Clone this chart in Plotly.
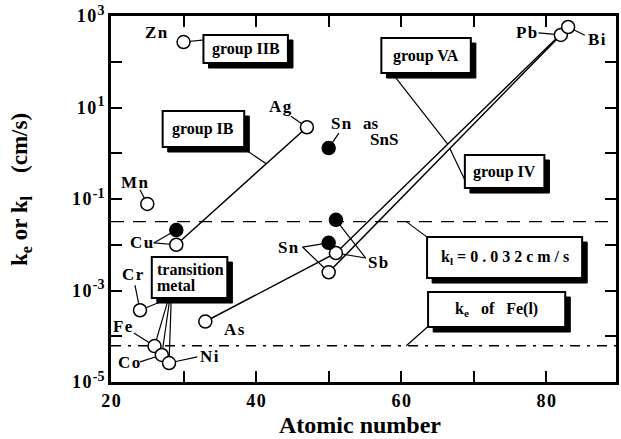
import math
import plotly.graph_objects as go

FONT = "Liberation Serif"

# ---- data -------------------------------------------------------------
# open circles: mass-transfer coefficient k_e of each solute element
open_elem = ["Mn", "Cr", "Fe", "Co", "Ni", "Cu", "Zn", "As", "Ag", "Sn", "Sb", "Pb", "Bi"]
open_z = [25, 24, 26, 27, 28, 29, 30, 33, 47, 50, 51, 82, 83]
open_k = [0.078, 3.7e-4, 6.1e-5, 3.9e-5, 2.6e-5, 0.010, 270, 2.1e-4, 3.7, 2.5e-3, 6.6e-3, 385, 575]

# filled circles
filled_elem = ["Cu", "Sn", "Sb", "SnS"]
filled_z = [29, 50, 51, 50]
filled_k = [0.021, 0.011, 0.035, 1.3]

# reference levels
K_L = 0.032          # k_l = 0.032 cm/s
KE_FE = 6.2e-5       # k_e of Fe(l)

# elements joined by the group trend lines
group_ib = ["Cu", "Ag"]
group_va = ["As", "Sb", "Bi"]
group_iv = ["Sn", "Pb"]

# axis ticks
x_ticks = [20, 30, 40, 50, 60, 70, 80]
x_ticktext = ["20", "", "40", "", "60", "", "80"]
y_exps = list(range(-5, 4))

X_RANGE = [20, 89.6]
Y_RANGE = [-5, 3]

# ---- helpers ----------------------------------------------------------
OPEN = dict(zip(open_elem, zip(open_z, open_k)))
FILLED = dict(zip(filled_elem, zip(filled_z, filled_k)))
HAIR = "\u200a"


def spaced(s):
    """Typewriter-style letter spacing."""
    return HAIR.join(s)


def on_line(a, b, z):
    """Point at atomic number z on the log-linear segment joining a and b."""
    (za, ka), (zb, kb) = a, b
    t = (z - za) / (zb - za)
    return z, 10 ** (math.log10(ka) + t * (math.log10(kb) - math.log10(ka)))


shapes = []
annotations = []


def seg(p0, p1, width=1.2, dash=None):
    shapes.append(dict(type="line", xref="x", yref="y", layer="below",
                       x0=p0[0], y0=p0[1], x1=p1[0], y1=p1[1],
                       line=dict(color="black", width=width, dash=dash)))


def pt(z, logk):
    return z, 10 ** logk


def label(text, z, logk, size=17, **kw):
    annotations.append(dict(text="<b>%s</b>" % text, x=z, y=logk, xref="x", yref="y",
                            showarrow=False, xanchor=kw.pop("xanchor", "center"),
                            yanchor="middle", font=dict(family=FONT, size=size, color="black"),
                            **kw))


# ---- figure -----------------------------------------------------------
fig = go.Figure()

# horizontal reference levels
shapes.append(dict(type="line", xref="paper", yref="y", layer="below", x0=0, x1=1,
                   y0=K_L, y1=K_L, line=dict(color="black", width=1.4, dash="13px,9px")))
shapes.append(dict(type="line", xref="paper", yref="y", layer="below", x0=0, x1=1,
                   y0=KE_FE, y1=KE_FE, line=dict(color="black", width=1.4, dash="10px,7px,3px,7px")))

# group trend lines
for grp in (group_ib, group_va, group_iv):
    fig.add_trace(go.Scatter(x=[OPEN[e][0] for e in grp], y=[OPEN[e][1] for e in grp],
                             mode="lines", line=dict(color="black", width=1.5),
                             hoverinfo="skip", showlegend=False))

fig.add_trace(go.Scatter(x=open_z, y=open_k, mode="markers", text=open_elem,
                         marker=dict(size=13, color="white", line=dict(color="black", width=1.5)),
                         showlegend=False))
fig.add_trace(go.Scatter(x=filled_z, y=filled_k, mode="markers", text=filled_elem,
                         marker=dict(size=13, color="black", line=dict(color="black", width=1.5)),
                         showlegend=False))

# element labels with their leader lines
label(spaced("Zn"), 26.3, 2.65)
label(spaced("Mn"), 23.3, -0.63)
seg(pt(24.0, -0.80), OPEN["Mn"])
label(spaced("Ag"), 43.4, 1.03)
seg(pt(44.8, 0.81), OPEN["Ag"])
label(spaced("Sn"), 51.8, 0.66)
label("as", 55.9, 0.66)
label("SnS", 57.6, 0.29)
seg(pt(51.4, 0.44), FILLED["SnS"])
label(spaced("Cu"), 24.2, -1.96)
seg(pt(25.9, -1.96), FILLED["Cu"])
seg(pt(25.9, -1.96), OPEN["Cu"])
label(spaced("Cr"), 23.0, -2.66)
seg(pt(23.3, -2.88), OPEN["Cr"])
label(spaced("Fe"), 21.6, -3.78)
seg(pt(23.15, -3.93), OPEN["Fe"])
label(spaced("Co"), 22.5, -4.58)
seg(pt(24.0, -4.56), OPEN["Co"])
label(spaced("Ni"), 33.6, -4.45)
seg(pt(31.9, -4.45), OPEN["Ni"])
label(spaced("As"), 37.0, -3.86)
label(spaced("Sn"), 44.5, -2.07)
seg(pt(46.4, -2.05), FILLED["Sn"])
seg(pt(46.4, -2.05), OPEN["Sn"])
label(spaced("Sb"), 56.8, -2.38)
seg(pt(55.1, -2.29), FILLED["Sb"])
seg(pt(55.1, -2.29), OPEN["Sb"])
label(spaced("Pb"), 77.3, 2.63)
seg(pt(78.9, 2.63), OPEN["Pb"])
label(spaced("Bi"), 87.0, 2.48)
seg(pt(85.3, 2.58), OPEN["Bi"])

# callouts from the boxes
seg(OPEN["Zn"], pt(32.9, 2.48))
seg(pt(38.6, 0.07), on_line(OPEN["Cu"], OPEN["Ag"], 41.4))
seg(pt(59.1, 1.68), on_line(OPEN["Sb"], OPEN["Bi"], 66.4))
seg(pt(68.9, -0.63), on_line(OPEN["Sn"], OPEN["Pb"], 66.7))
for z0, e in ((27.7, "Cr"), (27.9, "Fe"), (28.1, "Co"), (28.3, "Ni")):
    seg(pt(z0, -3.19), OPEN[e])
seg(pt(63.7, -1.85), (60.7, K_L))
seg(pt(63.8, -3.77), (60.7, KE_FE))

# shadowed text boxes: (lines of text, z0, z1, logk_bottom, logk_top)
boxes = [
    (["group IIB"], 32.74, 44.38, 1.973, 2.585),
    (["group IB"], 27.12, 38.36, 0.137, 0.923),
    (["group VA"], 57.26, 69.59, 1.754, 2.519),
    (["group IV"], 68.77, 79.73, -0.760, -0.038),
    (["transition", "metal"], 25.62, 36.03, -3.164, -2.268),
    (["k<sub>l</sub> = 0 . 0 3 2 c m / s"], 63.56, 84.93, -2.727, -1.831),
    (["k<sub>e</sub>\u00a0\u00a0 of\u00a0\u00a0 Fe(l)"], 63.70, 82.60, -3.798, -3.033),
]
DZ, DLOG = 0.7, 0.11
for lines, z0, z1, lb, lt in boxes:
    shapes.append(dict(type="rect", xref="x", yref="y", layer="below",
                       x0=z0 + DZ, x1=z1 + DZ, y0=10 ** (lb - DLOG), y1=10 ** (lt - DLOG),
                       fillcolor="black", line=dict(color="black", width=1)))
    shapes.append(dict(type="rect", xref="x", yref="y", layer="below",
                       x0=z0, x1=z1, y0=10 ** lb, y1=10 ** lt,
                       fillcolor="white", line=dict(color="black", width=2)))
    if len(lines) == 2:
        mid = (lb + lt) / 2
        label(lines[0], z0 + 0.4, mid + 0.17, size=16, xanchor="left")
        label(lines[1], z0 + 0.4, mid - 0.17, size=16, xanchor="left")
    else:
        label(lines[0], (z0 + z1) / 2, (lb + lt) / 2, size=16)

# axis titles
annotations.append(dict(text="<b>Atomic number</b>", xref="paper", yref="paper",
                        x=0.494, y=-0.117, showarrow=False, xanchor="center", yanchor="middle",
                        font=dict(family=FONT, size=24, color="black")))
annotations.append(dict(text="<b>k<sub>e</sub> or k<sub>l</sub>\u00a0\u00a0\u00a0\u00a0(cm/s)</b>",
                        xref="paper", yref="paper", x=-0.178, y=0.525, textangle=-90,
                        showarrow=False, xanchor="center", yanchor="middle",
                        font=dict(family=FONT, size=23, color="black")))

axis_common = dict(showline=True, linewidth=3, linecolor="black", mirror="ticks",
                   ticks="inside", ticklen=11, tickwidth=2, tickcolor="black",
                   showgrid=False, zeroline=False,
                   tickfont=dict(family=FONT, size=18, color="black"))


def exp_label(e):
    return "<b>1%s0<sup><span style='font-size:14px'>%s%d</span></sup></b>" % (HAIR, HAIR, e)


fig.update_layout(
    width=621, height=439,
    margin=dict(l=111, r=2, t=16, b=57),
    paper_bgcolor="white", plot_bgcolor="white",
    showlegend=False,
    shapes=shapes, annotations=annotations,
    xaxis=dict(range=X_RANGE, tickvals=x_ticks,
               ticktext=["<b>%s</b>" % spaced(t) if t else "" for t in x_ticktext], **axis_common),
    yaxis=dict(type="log", range=Y_RANGE, tickvals=[10 ** e for e in y_exps],
               ticktext=[exp_label(e) if e % 2 else "" for e in y_exps],
               **axis_common),
)

fig.write_html("out.html", config={"displayModeBar": False})
